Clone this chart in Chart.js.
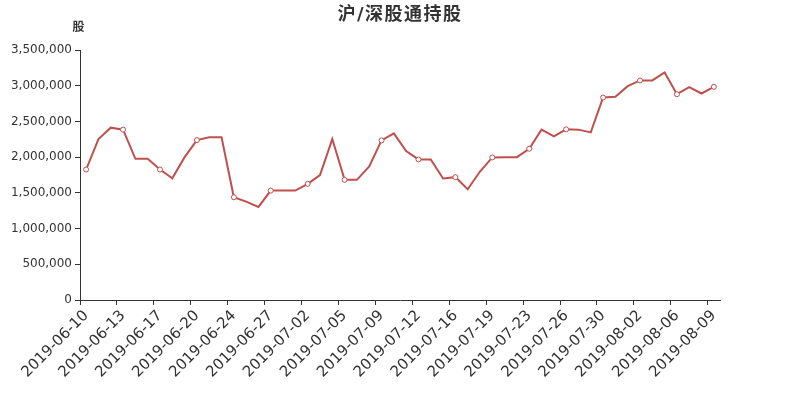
<!DOCTYPE html>
<html>
<head>
<meta charset="utf-8">
<script src="https://cdn.jsdelivr.net/npm/chart.js@4"></script>
<style>
  html, body { margin: 0; padding: 0; background: #fff; }
</style>
</head>
<body>
<canvas id="holdChart" width="800" height="400"></canvas>
<script>
const chartTitle = '沪/深股通持股';
const unitLabel = '股';

// trading dates (every 3rd one is shown on the axis)
const dates = [
  '2019-06-10', '2019-06-11', '2019-06-12', '2019-06-13', '2019-06-14', '2019-06-15',
  '2019-06-17', '2019-06-18', '2019-06-19', '2019-06-20', '2019-06-21', '2019-06-22',
  '2019-06-24', '2019-06-25', '2019-06-26', '2019-06-27', '2019-06-28', '2019-07-01',
  '2019-07-02', '2019-07-03', '2019-07-04', '2019-07-05', '2019-07-06', '2019-07-08',
  '2019-07-09', '2019-07-10', '2019-07-11', '2019-07-12', '2019-07-13', '2019-07-15',
  '2019-07-16', '2019-07-17', '2019-07-18', '2019-07-19', '2019-07-20', '2019-07-22',
  '2019-07-23', '2019-07-24', '2019-07-25', '2019-07-26', '2019-07-27', '2019-07-29',
  '2019-07-30', '2019-07-31', '2019-08-01', '2019-08-02', '2019-08-03', '2019-08-05',
  '2019-08-06', '2019-08-07', '2019-08-08', '2019-08-09'
];

const holdings = [
  1827000, 2253000, 2413000, 2385000, 1977000, 1977000,
  1827000, 1705000, 2000000, 2239000, 2277000, 2277000,
  1438000, 1377000, 1303000, 1532000, 1532000, 1532000,
  1626000, 1748000, 2253000, 1682000, 1682000, 1869000,
  2235000, 2333000, 2085000, 1968000, 1968000, 1701000,
  1720000, 1551000, 1799000, 1996000, 1998000, 2000000,
  2118000, 2385000, 2291000, 2389000, 2385000, 2347000,
  2835000, 2844000, 2994000, 3074000, 3074000, 3186000,
  2881000, 2980000, 2891000, 2984000
];

const labelEvery = 3;
const yMax = 3500000;
const yStep = 500000;

const textPlugin = {
  id: 'textPlugin',
  afterDraw(chart) {
    const c = chart.ctx;
    c.save();
    c.fillStyle = '#333';
    c.textAlign = 'center';
    c.textBaseline = 'middle';
    c.font = 'bold 18px "DejaVu Sans", "Noto Sans CJK SC", sans-serif';
    c.letterSpacing = '1.5px';
    c.fillText(chartTitle, 400, 15);
    c.letterSpacing = '0px';
    c.font = 'bold 12px "DejaVu Sans", "Noto Sans CJK SC", sans-serif';
    c.fillText(unitLabel, 78.5, 28);
    c.restore();
  }
};

const ctx = document.getElementById('holdChart').getContext('2d');
new Chart(ctx, {
  type: 'line',
  data: {
    labels: dates,
    datasets: [{
      data: holdings,
      borderColor: '#c0504d',
      borderWidth: 2,
      fill: false,
      tension: 0,
      pointRadius: (c) => c.dataIndex % labelEvery === 0 ? 2.5 : 0,
      pointBackgroundColor: '#fff',
      pointBorderColor: '#c0504d',
      pointBorderWidth: 1
    }]
  },
  options: {
    responsive: false,
    animation: false,
    layout: { padding: { top: 50, right: 80, bottom: 0, left: 0 } },
    plugins: {
      legend: { display: false },
      tooltip: { enabled: false }
    },
    scales: {
      x: {
        offset: true,
        grid: {
          offset: true,
          drawOnChartArea: false,
          drawTicks: true,
          tickLength: 5,
          color: (c) => c.index % labelEvery === 0 ? '#333' : 'rgba(0,0,0,0)'
        },
        border: { display: true, color: '#333', width: 1 },
        ticks: {
          autoSkip: false,
          minRotation: 45,
          maxRotation: 45,
          padding: 2,
          color: '#333',
          font: { family: '"DejaVu Sans"', size: 15 },
          callback: function (v, i) { return i % labelEvery === 0 ? this.getLabelForValue(v) : ''; }
        },
        afterFit(scale) { scale.height = 100; }
      },
      y: {
        min: 0,
        max: yMax,
        grid: { drawOnChartArea: false, drawTicks: true, tickLength: 5, color: '#333' },
        border: { display: true, color: '#333', width: 1 },
        ticks: {
          stepSize: yStep,
          padding: 3,
          color: '#333',
          font: { family: '"DejaVu Sans"', size: 12 },
          callback: (v) => v.toLocaleString('en-US')
        },
        afterFit(scale) { scale.width = 80; }
      }
    }
  },
  plugins: [textPlugin]
});
</script>
</body>
</html>
